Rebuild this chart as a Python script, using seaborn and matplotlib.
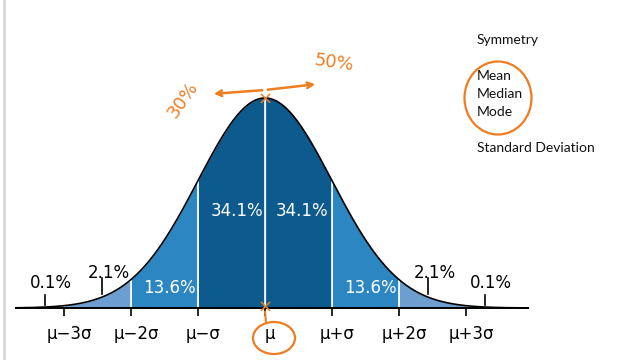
import numpy as np
import pandas as pd
import matplotlib
matplotlib.use("Agg")
import matplotlib.pyplot as plt
import seaborn as sns
from matplotlib.patches import Ellipse
from matplotlib.lines import Line2D
from matplotlib.transforms import ScaledTranslation

# --- data: standard normal, bands in sigma units ---
edges = [-3, -2, -1, 0, 1, 2, 3]
tick_labels = ["μ−3σ", "μ−2σ", "μ−σ", "μ", "μ+σ", "μ+2σ", "μ+3σ"]
band_colors = ["#6c9fcf", "#2b86c2", "#0c5a8e", "#0c5a8e", "#2b86c2", "#6c9fcf"]
tail_color = "#a9c8e4"
inner_pct = ["13.6%", "34.1%", "34.1%", "13.6%"]
inner_x = [-1.43, -0.42, 0.55, 1.57]
inner_y = [0.038, 0.184, 0.184, 0.038]
outer_pct = ["0.1%", "2.1%", "2.1%", "0.1%"]
outer_x = [-3.2, -2.33, 2.53, 3.37]
outer_y = [0.047, 0.066, 0.066, 0.047]
marker_x = [-3.28, -2.43, 2.43, 3.28]
marker_lo = [0.006, 0.027, 0.027, 0.006]
marker_hi = [0.025, 0.057, 0.057, 0.025]
notes = ["Symmetry", "Mean", "Median", "Mode", "Standard Deviation"]
notes_y = [40, 76, 94, 112, 148]

x_lo, x_hi = -3.72, 3.93
xs = np.linspace(x_lo, x_hi, 600)
df = pd.DataFrame({"x": xs, "pdf": np.exp(-xs ** 2 / 2) / np.sqrt(2 * np.pi)})

# pixel layout of the reference
MU_PX, SIG_PX, BASE_PX, PEAK_PX = 265, 67, 308, 98
yscale = (BASE_PX - PEAK_PX) / df["pdf"].max()


def px(x, y):
    return (x - MU_PX) / SIG_PX, (BASE_PX - y) / yscale


fig = plt.figure(figsize=(6.4, 3.6), dpi=100)
ax = fig.add_axes([0, 0, 1, 1])
ax.set_xlim(px(0, 0)[0], px(640, 0)[0])
ax.set_ylim(px(0, 360)[1], px(0, 0)[1])

# --- shaded bands ---
for a, b, c in zip(edges[:-1], edges[1:], band_colors):
    m = (df["x"] >= a) & (df["x"] <= b)
    ax.fill_between(df["x"][m], 0, df["pdf"][m], color=c, lw=0)
for m in [df["x"] <= -3, df["x"] >= 3]:
    ax.fill_between(df["x"][m], 0, df["pdf"][m], color=tail_color, lw=0)

# white separators
for e in edges[1:-1]:
    h = np.exp(-e ** 2 / 2) / np.sqrt(2 * np.pi)
    ax.plot([e, e], [0, h], color="white", lw=1.2, zorder=2)

sns.lineplot(data=df, x="x", y="pdf", color="black", lw=1.2, ax=ax, zorder=3)

# --- axis ---
for s in ["top", "right", "left"]:
    ax.spines[s].set_visible(False)
ax.spines["bottom"].set_position(("data", 0))
ax.spines["bottom"].set_bounds(x_lo, x_hi)
ax.spines["bottom"].set_linewidth(1.4)
ax.spines["bottom"].set_zorder(4)
ax.set_xticks(edges)
ax.set_xticklabels(tick_labels, fontsize=12)
ax.tick_params(axis="x", direction="out", length=6, width=1.2, pad=6)
for lbl in ax.get_xticklabels():
    lbl.set_transform(lbl.get_transform() + ScaledTranslation(0.05, 0, fig.dpi_scale_trans))
ax.set_yticks([])
ax.set_xlabel("")
ax.set_ylabel("")
ax.patch.set_alpha(0)

# --- percentages ---
for t, x, y in zip(inner_pct, inner_x, inner_y):
    ax.text(x, y, t, color="white", fontsize=12, ha="center", va="center", zorder=5)
for t, x, y in zip(outer_pct, outer_x, outer_y):
    ax.text(x, y, t, color="black", fontsize=12, ha="center", va="center", zorder=5)
for x, lo, hi in zip(marker_x, marker_lo, marker_hi):
    ax.plot([x, x], [lo, hi], color="black", lw=1.2, zorder=5)

# --- notes on the right ---
for t, y in zip(notes, notes_y):
    ax.text(*px(477, y), t, fontsize=10, family=["Lato", "DejaVu Sans"],
            ha="left", va="center", color="#111111")

# --- hand-drawn orange marks ---
orange = "#ee7d22"
ax.annotate("", xy=px(211, 94), xytext=px(265, 90),
            arrowprops=dict(arrowstyle="->", color=orange, lw=1.8))
ax.annotate("", xy=px(318, 84), xytext=px(265, 90),
            arrowprops=dict(arrowstyle="->", color=orange, lw=1.8))
ax.text(*px(334, 63), "50%", color=orange, fontsize=13, rotation=-8,
        ha="center", va="center", family="DejaVu Sans")
ax.text(*px(183, 100), "30%", color=orange, fontsize=13, rotation=55,
        ha="center", va="center", family="DejaVu Sans")
for cx, cy in [(265, 100), (265, 308)]:
    ax.text(*px(cx, cy), "×", color=orange, fontsize=13, ha="center",
            va="center", zorder=6)
ax.plot(*zip(px(265, 312), px(266, 322)), color=orange, lw=1.5, zorder=6)
for cx, cy, w, h in [(274, 338, 42, 32), (498, 98, 67, 73)]:
    ax.add_patch(Ellipse(px(cx, cy), w / SIG_PX, h / yscale, fill=False,
                         edgecolor=orange, lw=1.6, zorder=6))

fig.add_artist(Line2D([3.5 / 640] * 2, [0, 1], transform=fig.transFigure,
                      color="#d9d9d9", lw=2))

plt.savefig("out.png", dpi=100)
